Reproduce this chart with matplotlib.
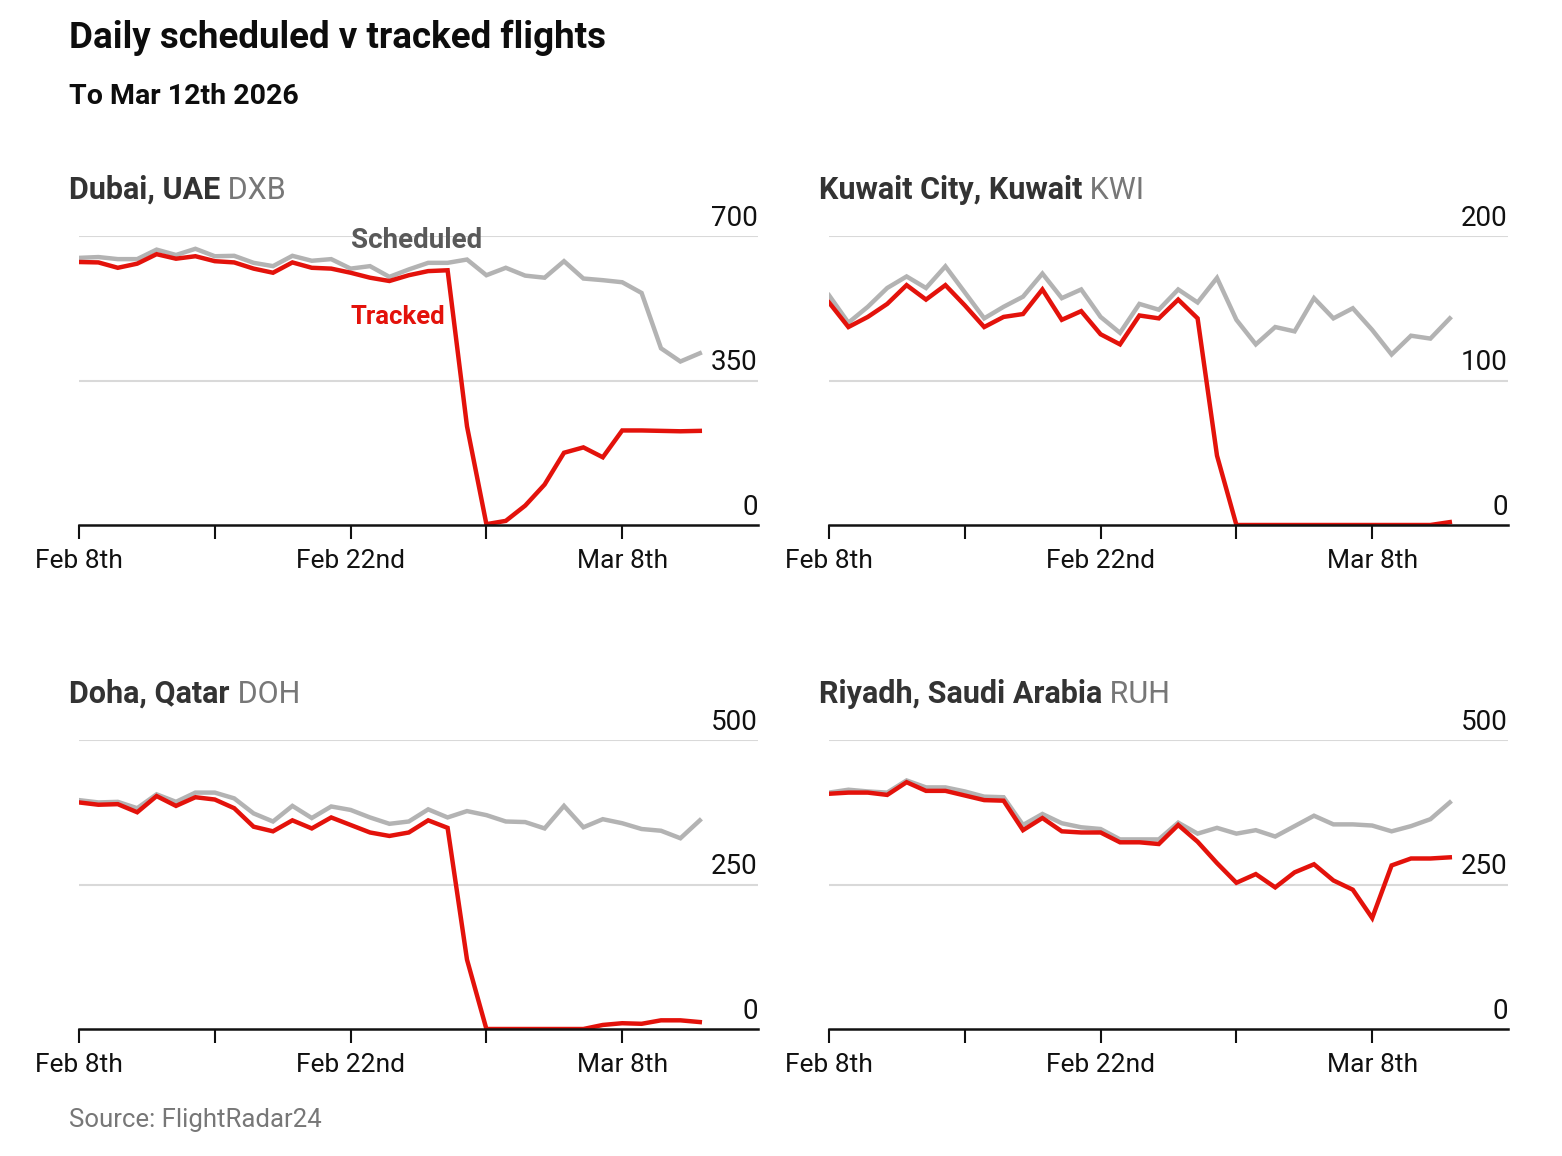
import numpy as np
import pandas as pd
import matplotlib
matplotlib.use("Agg")
import matplotlib.pyplot as plt
import matplotlib.transforms as mtransforms

plt.rcParams['font.family'] = ['Roboto', 'DejaVu Sans']

# daily values, Feb 8th to Mar 12th 2026
dates = pd.date_range("2026-02-08", "2026-03-12", freq="D")

dxb_scheduled = [647, 649, 644, 644, 667, 654, 669, 651, 652, 635, 627, 652, 640, 644, 621, 627, 601, 619,
                 635, 635, 643, 605, 623, 604, 599, 639, 597, 593, 588, 562, 428, 396, 416]
dxb_tracked = [637, 636, 623, 633, 656, 645, 651, 639, 636, 621, 611, 636, 623, 621, 611, 599, 591, 605,
               615, 617, 239, 2, 10, 47, 98, 175, 188, 164, 229, 229, 228, 227, 228]

kwi_scheduled = [159, 140, 151, 164, 172, 164, 179, 161, 143, 151, 158, 174, 157, 163, 144, 133, 153, 149,
                 163, 154, 171, 142, 125, 137, 134, 157, 143, 150, 135, 118, 131, 129, 143]
kwi_tracked = [154, 137, 144, 153, 166, 156, 166, 152, 137, 144, 146, 163, 142, 148, 132, 125, 145, 143,
               156, 143, 48, 0, 0, 0, 0, 0, 0, 0, 0, 0, 0, 0, 2]

doh_scheduled = [396, 392, 393, 382, 406, 393, 409, 409, 399, 373, 359, 386, 365, 385, 379, 366, 355, 359,
                 380, 366, 377, 370, 359, 358, 347, 386, 349, 363, 356, 346, 343, 330, 361]
doh_tracked = [392, 388, 389, 375, 403, 386, 401, 397, 382, 350, 342, 361, 347, 366, 353, 340, 334, 340,
               361, 348, 120, 0, 0, 0, 0, 0, 0, 7, 10, 9, 15, 15, 12]

ruh_scheduled = [409, 414, 411, 409, 430, 418, 418, 411, 402, 401, 353, 372, 356, 349, 346, 328, 328, 328,
                 357, 338, 348, 338, 344, 333, 351, 369, 354, 354, 352, 342, 351, 363, 392]
ruh_tracked = [407, 409, 409, 405, 427, 412, 412, 404, 396, 395, 344, 365, 342, 340, 340, 323, 323, 320,
               353, 324, 287, 253, 268, 245, 271, 285, 257, 241, 192, 283, 295, 295, 297]

panels = [
    ("Dubai, UAE", "DXB", dxb_scheduled, dxb_tracked, [0, 350, 700]),
    ("Kuwait City, Kuwait", "KWI", kwi_scheduled, kwi_tracked, [0, 100, 200]),
    ("Doha, Qatar", "DOH", doh_scheduled, doh_tracked, [0, 250, 500]),
    ("Riyadh, Saudi Arabia", "RUH", ruh_scheduled, ruh_tracked, [0, 250, 500]),
]

W, H = 1562, 1156
GREY = "#b3b3b3"
RED = "#e3120b"

fig = plt.figure(figsize=(W / 100, H / 100), dpi=100)

fig.text(69 / W, 1 - 38 / H, "Daily scheduled v tracked flights", fontsize=26.5, fontweight="bold",
         color="#0d0d0d", ha="left", va="center")
fig.text(69 / W, 1 - 97 / H, "To Mar 12th 2026", fontsize=20.5, fontweight="bold",
         color="#0d0d0d", ha="left", va="center")
fig.text(69 / W, 1 - 1120 / H, "Source: FlightRadar24", fontsize=18.5, color="#777777",
         ha="left", va="center")

# pixel boxes (left, top) of each plot area
boxes = [(79, 236), (829, 236), (79, 740), (829, 740)]
aw, ah = 679, 289

xmin = pd.Timestamp("2026-02-08")
xmax = pd.Timestamp("2026-03-15")
weekly = pd.date_range("2026-02-08", "2026-03-08", freq="7D")
labels = {pd.Timestamp("2026-02-08"): "Feb 8th", pd.Timestamp("2026-02-22"): "Feb 22nd",
          pd.Timestamp("2026-03-08"): "Mar 8th"}

for (name, code, sched, tracked, yt), (px, py) in zip(panels, boxes):
    ax = fig.add_axes([px / W, 1 - (py + ah) / H, aw / W, ah / H])
    for v in yt[1:]:
        ax.axhline(v, color="#d9d9d9", lw=1.5, zorder=0)
    ax.plot(dates, sched, color=GREY, lw=3.2, solid_joinstyle="miter", zorder=2)
    ax.plot(dates, tracked, color=RED, lw=3.2, solid_joinstyle="miter", zorder=3)
    ax.set_xlim(xmin, xmax)
    ax.set_ylim(0, yt[-1])
    ax.set_yticks([])
    for s in ("top", "right", "left"):
        ax.spines[s].set_visible(False)
    ax.spines["bottom"].set_linewidth(1.8)
    ax.spines["bottom"].set_color("#111111")
    ax.spines["bottom"].set_zorder(4)
    ax.set_xticks(weekly)
    ax.set_xticklabels([labels.get(d, "") for d in weekly])
    ax.tick_params(axis="x", length=10, width=1.5, color="#111111", labelsize=19, pad=7,
                   labelcolor="#111111")
    ax.patch.set_alpha(0)

    trans = mtransforms.blended_transform_factory(ax.transAxes, ax.transData)
    off = mtransforms.offset_copy(trans, fig=fig, y=3, units="points")
    for v in yt:
        ax.text(1.0, v, str(v), transform=off, ha="right", va="bottom", fontsize=20,
                color="#111111")

    t = fig.text((px - 10) / W, 1 - (py - 46) / H, name, fontsize=22, fontweight="bold",
                 color="#333333", ha="left", va="center")
    ax.annotate(" " + code, xy=(1, 0), xycoords=t, ha="left", va="bottom", fontsize=22,
                color="#777777", annotation_clip=False)

    if code == "DXB":
        ax.text(pd.Timestamp("2026-02-22"), 690, "Scheduled", fontsize=20, fontweight="bold",
                color="#595959", ha="left", va="center")
        ax.text(pd.Timestamp("2026-02-22"), 504, "Tracked", fontsize=18.5, fontweight="bold",
                color=RED, ha="left", va="center")

fig.savefig("out.png", dpi=100)
